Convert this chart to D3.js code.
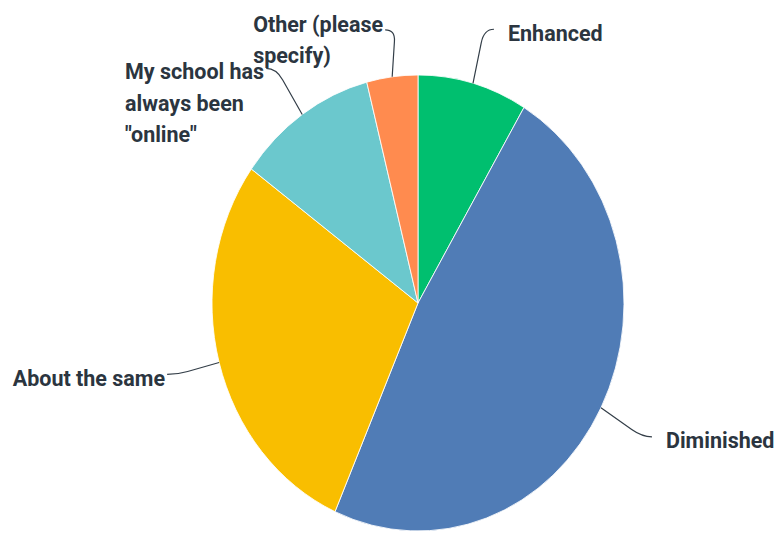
<!DOCTYPE html>
<html><head><meta charset="utf-8">
<script src="https://cdn.jsdelivr.net/npm/d3@7"></script>
<style>html,body{margin:0;padding:0;background:#fff;}svg{display:block;}</style>
</head><body>
<svg id="chart" width="784" height="533"></svg>
<script>
// Data
const categories = ["Enhanced", "Diminished", "About the same", "My school has always been \"online\"", "Other (please specify)"];
const values = [8.6, 48.0, 28.4, 11.0, 4.0];
const labelLines = [["Enhanced"], ["Diminished"], ["About the same"], ["My school has", "always been", "\"online\""], ["Other (please", "specify)"]];
const colors = ["#00BF6F", "#507CB6", "#F9BE00", "#6BC8CD", "#FF8B4F"];

// Layout (not data)
const cx = 418, cy = 303, rx = 206, ry = 228;
const leaderOffsets = [[21, -54], [51, 29], [-52, 12], [-36, -46], [-7, -47]];
const sides = ["right", "right", "left", "left", "left"];
const baselineShift = [12, 11, 12, 11, 2];
const lineH = 31.5;

const svg = d3.select("#chart");
const pie = d3.pie().sort(null).value(d => d)(values);
const arc = d3.arc().innerRadius(0).outerRadius(rx);

const g = svg.append("g").attr("transform", `translate(${cx},${cy}) scale(1,${ry/rx})`);
g.selectAll("path").data(pie).join("path")
  .attr("d", arc)
  .attr("fill", (d, i) => colors[i])
  .attr("stroke", "#fff").attr("stroke-width", 0.8);

const labels = svg.append("g");
pie.forEach((d, i) => {
  const a = (d.startAngle + d.endAngle) / 2;
  const ax = cx + rx * Math.sin(a), ay = cy - ry * Math.cos(a);
  const ex = ax + leaderOffsets[i][0], ey = ay + leaderOffsets[i][1];
  const dir = sides[i] === "right" ? 1 : -1;
  const cxp = ex - dir * 10, cyp = ey;
  const mx = cxp + (ax - cxp) * 0.25, my = cyp + (ay - cyp) * 0.25;
  labels.append("path")
    .attr("d", `M${ax},${ay} L${mx},${my} Q${cxp},${cyp} ${ex},${ey}`)
    .attr("fill", "none").attr("stroke", "#333e48").attr("stroke-width", 1.2);

  const t = labels.append("text")
    .attr("font-family", "Roboto, 'Noto Sans', sans-serif")
    .attr("font-weight", 700)
    .attr("font-size", 21.5)
    .attr("fill", "#2b3540");
  labelLines[i].forEach((ln, k) => {
    t.append("tspan").attr("x", 0).attr("dy", k === 0 ? 0 : lineH / 1.05).text(ln);
  });
  let w = 0;
  t.selectAll("tspan").each(function() { w = Math.max(w, this.getComputedTextLength()); });
  const tx = dir === 1 ? ex + 14 : ex - 2 - w;
  t.attr("transform", `translate(${tx},${ey + baselineShift[i]}) scale(1,1.05)`);
});
</script>
</body></html>
